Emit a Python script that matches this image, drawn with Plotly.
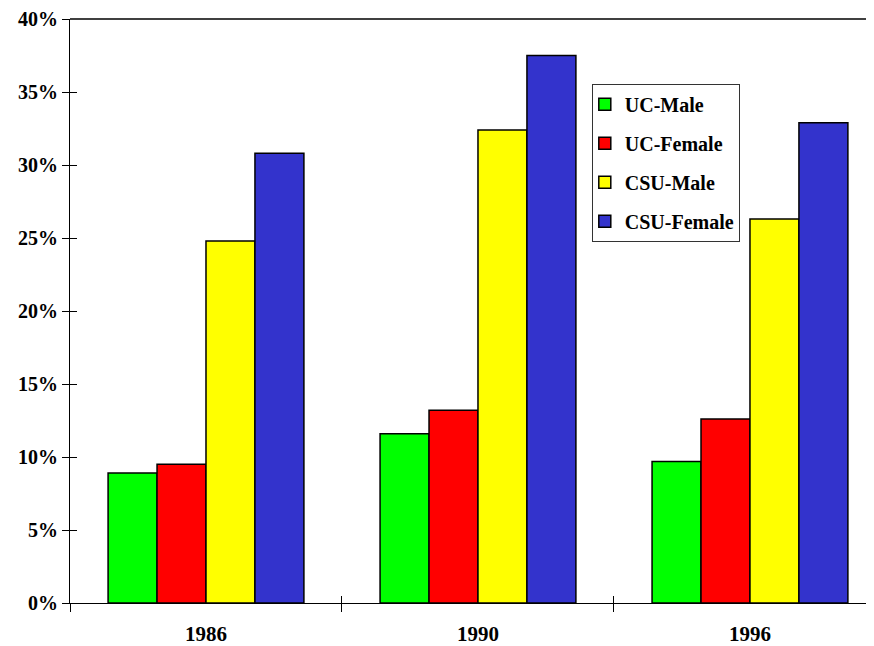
import plotly.graph_objects as go

# Share of students (percent) by year and group
years = ["1986", "1990", "1996"]
uc_male = [8.9, 11.6, 9.7]
uc_female = [9.5, 13.2, 12.6]
csu_male = [24.8, 32.4, 26.3]
csu_female = [30.8, 37.5, 32.9]
pct_ticks = list(range(0, 41, 5))
pct_labels = [f"{v}%" for v in pct_ticks]

series = [
    ("UC-Male", uc_male, "#00ff00"),
    ("UC-Female", uc_female, "#ff0000"),
    ("CSU-Male", csu_male, "#ffff00"),
    ("CSU-Female", csu_female, "#3333cc"),
]

FONT = "Liberation Serif, Times New Roman, serif"

fig = go.Figure()
for i, (name, vals, color) in enumerate(series):
    fig.add_trace(go.Bar(
        x=years, y=vals, name=name, legendgroup=str(i),
        marker=dict(color=color, line=dict(color="black", width=1.5)),
    ))

# empty helper trace so the overlay axes (inner half of the crossing ticks) get drawn
fig.add_trace(go.Scatter(x=[None], y=[None], xaxis="x2", yaxis="y2",
                         showlegend=False, hoverinfo="skip"))

fig.update_layout(
    width=866, height=638,
    margin=dict(l=62, r=0, t=10, b=42),
    paper_bgcolor="white", plot_bgcolor="white",
    barmode="group", bargap=0.28, bargroupgap=0,
    font=dict(family=FONT, color="black"),
    legend=dict(
        x=0.649, y=0.889, xanchor="left", yanchor="top",
        bordercolor="#333333", borderwidth=1, bgcolor="white",
        font=dict(size=20, weight="bold", family=FONT),
        tracegroupgap=10, itemwidth=30, indentation=-8,
    ),
    xaxis=dict(
        type="category", range=[-0.5, 2.456],
        tickson="boundaries", ticks="outside", ticklen=8, tickcolor="black",
        showline=True, linecolor="black", linewidth=1,
        showgrid=False, tickfont=dict(size=21, weight="bold"),
        ticklabelstandoff=12, ticklabeloverflow="allow",
    ),
    yaxis=dict(
        range=[0, 40], tickvals=pct_ticks, ticktext=pct_labels,
        ticks="outside", ticklen=7, tickcolor="black",
        showline=True, linecolor="black", linewidth=1,
        showgrid=False, zeroline=False, ticklabeloverflow="allow",
        tickfont=dict(size=20, weight="bold"),
    ),
    xaxis2=dict(
        overlaying="x", anchor="y", range=[-0.5, 2.456],
        tickvals=[-0.5, 0.5, 1.5], ticks="inside", ticklen=7, tickcolor="black",
        showticklabels=False, showgrid=False, zeroline=False, showline=False,
    ),
    yaxis2=dict(
        overlaying="y", anchor="x", side="left", range=[0, 40],
        tickvals=pct_ticks, ticks="inside", ticklen=7, tickcolor="black",
        showticklabels=False, showgrid=False, zeroline=False, showline=False,
    ),
    shapes=[dict(type="line", xref="paper", yref="paper", x0=0, x1=1, y0=1, y1=1,
                 line=dict(color="#404040", width=2))],
)

fig.write_html("out.html")
